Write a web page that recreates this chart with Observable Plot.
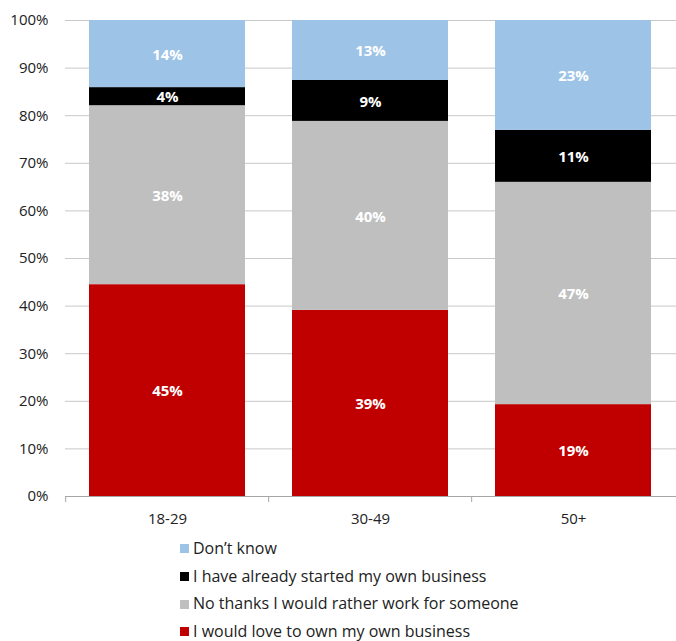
<!DOCTYPE html>
<html>
<head>
<meta charset="utf-8">
<script src="https://cdn.jsdelivr.net/npm/d3@7"></script>
<script src="https://cdn.jsdelivr.net/npm/@observablehq/plot@0.6"></script>
<style>
  body { margin: 0; background: #fff; font-family: "Open Sans", sans-serif; }
  #legend { margin-left: 180px; margin-top: 4px; font-size: 16px; color: #222; }
  #legend .row { height: 27.7px; line-height: 27.7px; display: flex; align-items: center; white-space: nowrap; }
  #legend .sw { width: 9px; height: 9px; margin-right: 4px; flex: none; }
</style>
</head>
<body>
<div id="chart"></div>
<div id="legend"></div>
<script>
const categories = ["18-29", "30-49", "50+"];
const seriesNames = [
  "I would love to own my own business",
  "No thanks I would rather work for someone",
  "I have already started my own business",
  "Don\u2019t know"
];
const seriesColors = ["#C00000", "#BFBFBF", "#000000", "#9DC3E6"];
// values per series, in category order (percent)
const loveOwn = [44.5, 39.1, 19.3];
const noThanks = [37.6, 39.7, 46.7];
const started = [3.8, 8.6, 10.9];
const dontKnow = [14.1, 12.6, 23.1];
const yTicks = [0, 10, 20, 30, 40, 50, 60, 70, 80, 90, 100];

const seriesValues = [loveOwn, noThanks, started, dontKnow];
const data = [];
seriesNames.forEach((s, i) => categories.forEach((c, j) => data.push({cat: c, series: s, value: seriesValues[i][j]})));

const W = 676, H = 531, mL = 65, mR = 0, mT = 20, mB = 35;
const step = (W - mL - mR) / categories.length;

const chart = Plot.plot({
  width: W, height: H,
  marginLeft: mL, marginRight: mR, marginTop: mT, marginBottom: mB,
  style: {fontFamily: "'Open Sans', sans-serif", fontSize: "15px", color: "#222", background: "#fff"},
  x: {domain: categories, paddingInner: 0.23, paddingOuter: 0.115, label: null},
  y: {domain: [0, 100], label: null},
  color: {domain: seriesNames, range: seriesColors},
  marks: [
    Plot.gridY(yTicks, {stroke: "#c8c8c8", strokeOpacity: 1}),
    Plot.axisY(yTicks, {tickSize: 0, tickPadding: 17, tickFormat: d => d + "%", fontSize: 15, label: null}),
    Plot.barY(data, Plot.stackY({x: "cat", y: "value", fill: "series", order: null})),
    Plot.text(data, Plot.stackY({x: "cat", y: "value", order: null, text: d => Math.round(d.value) + "%", fill: "white", fontWeight: "bold", fontSize: 15, dy: 1})),
    Plot.ruleY([0], {stroke: "#a6a6a6"}),
    Plot.axisX({tickSize: 6, dx: -step / 2, tickFormat: () => "", stroke: "#a6a6a6", label: null}),
    Plot.axisX({tickSize: 0, tickPadding: 17, fontSize: 15, label: null})
  ]
});
document.getElementById("chart").appendChild(chart);

const legend = document.getElementById("legend");
[3, 2, 1, 0].forEach(i => {
  const row = document.createElement("div");
  row.className = "row";
  row.innerHTML = `<span class="sw" style="background:${seriesColors[i]}"></span><span>${seriesNames[i]}</span>`;
  legend.appendChild(row);
});
</script>
</body>
</html>
